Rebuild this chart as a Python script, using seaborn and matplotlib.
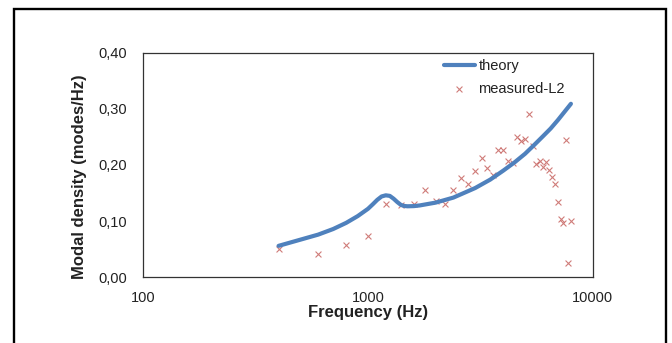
import matplotlib
matplotlib.use("Agg")
import matplotlib.pyplot as plt
import matplotlib.ticker as mticker
from matplotlib.lines import Line2D
import seaborn as sns
import pandas as pd

# ---- data ----
theory_freq = [400, 500, 600, 700, 800, 900, 1000, 1050, 1100, 1150, 1200, 1250,
               1300, 1350, 1400, 1450, 1500, 1600, 1700, 2000, 2400, 3000, 3500,
               4000, 4500, 5000, 5500, 6000, 6500, 7000, 7500, 8000]
theory_density = [0.056, 0.067, 0.076, 0.086, 0.097, 0.109, 0.122, 0.130, 0.138,
                  0.144, 0.146, 0.145, 0.140, 0.134, 0.129, 0.127, 0.1265, 0.1268,
                  0.128, 0.133, 0.142, 0.159, 0.174, 0.190, 0.205, 0.220, 0.236,
                  0.251, 0.265, 0.280, 0.295, 0.309]

measured_freq = [400, 600, 800, 1000, 1200, 1400, 1600, 1800, 2000, 2200, 2400,
                 2600, 2800, 3000, 3200, 3400, 3600, 3800, 4000, 4200, 4400, 4600,
                 4800, 5000, 5200, 5400, 5600, 5800, 6000, 6200, 6400, 6600, 6800,
                 7000, 7200, 7400, 7600, 7800, 8000]
measured_density = [0.050, 0.041, 0.058, 0.074, 0.130, 0.128, 0.130, 0.155, 0.136,
                    0.130, 0.156, 0.177, 0.167, 0.189, 0.212, 0.194, 0.183, 0.227,
                    0.227, 0.208, 0.204, 0.249, 0.242, 0.247, 0.290, 0.233, 0.202,
                    0.208, 0.196, 0.205, 0.191, 0.179, 0.167, 0.134, 0.103, 0.097,
                    0.245, 0.025, 0.101]

x_ticks = [100, 1000, 10000]
x_tick_labels = ["100", "1000", "10000"]
y_ticks = [0.0, 0.1, 0.2, 0.3, 0.4]
y_tick_labels = ["0,00", "0,10", "0,20", "0,30", "0,40"]

theory_df = pd.DataFrame({"freq": theory_freq, "density": theory_density})
measured_df = pd.DataFrame({"freq": measured_freq, "density": measured_density})

sns.set_style("white")
plt.rcParams["font.family"] = ["Liberation Sans", "DejaVu Sans"]

W, H = 672, 343
fig = plt.figure(figsize=(W / 100, H / 100), dpi=100)
fig.patch.set_facecolor("white")

ax = fig.add_axes([143.3 / W, 1 - 277.3 / H, (592.7 - 143.3) / W, (277.3 - 52.7) / H])

sns.lineplot(data=theory_df, x="freq", y="density", ax=ax, color="#4F81BD",
             linewidth=3.0, label="theory", sort=False,
             solid_joinstyle="round", solid_capstyle="round")
sns.scatterplot(data=measured_df, x="freq", y="density", ax=ax, marker="x",
                color="#C0504D", s=18, linewidth=0.8, alpha=0.75,
                label="measured-L2")

ax.set_xscale("log")
ax.set_xlim(100, 10000)
ax.set_ylim(0, 0.4)
ax.xaxis.set_major_locator(mticker.FixedLocator(x_ticks))
ax.xaxis.set_minor_locator(mticker.NullLocator())
ax.set_xticks(x_ticks)
ax.set_xticklabels(x_tick_labels)
ax.set_yticks(y_ticks)
ax.set_yticklabels(y_tick_labels)

ax.tick_params(axis="both", which="major", direction="in", length=5, width=0.8,
               color="#333333", labelsize=10.5, labelcolor="#222222")
ax.tick_params(axis="y", pad=12)
ax.tick_params(axis="x", pad=10)
ax.tick_params(axis="both", which="minor", length=0)

for sp in ax.spines.values():
    sp.set_visible(True)
    sp.set_color("#333333")
    sp.set_linewidth(0.9)

ax.set_xlabel("Frequency (Hz)", fontsize=12, fontweight="bold", color="#222222")
ax.set_ylabel("Modal density (modes/Hz)", fontsize=12, fontweight="bold", color="#222222")
ax.xaxis.set_label_coords(0.5, -0.125)
ax.yaxis.set_label_coords(-0.125, 0.448)

handles, labels = ax.get_legend_handles_labels()
leg = ax.legend(handles, labels, loc="upper left",
                bbox_to_anchor=(444 / W, 1 - 59 / H), bbox_transform=fig.transFigure,
                frameon=False, fontsize=10.5, handlelength=2.1, handletextpad=0.25,
                borderpad=0, borderaxespad=0, labelspacing=0.6)
for t in leg.get_texts():
    t.set_color("#222222")

# outer chart border: left, top and right edges only (bottom is cropped in the reference)
xl, xr, yt = 13.5 / W, 666 / W, 1 - 8.5 / H
fig.lines.append(Line2D([xl, xl, xr, xr], [0, yt, yt, 0], transform=fig.transFigure,
                        color="black", linewidth=1.7, solid_joinstyle="miter"))

fig.savefig("out.png", dpi=100, facecolor="white")
